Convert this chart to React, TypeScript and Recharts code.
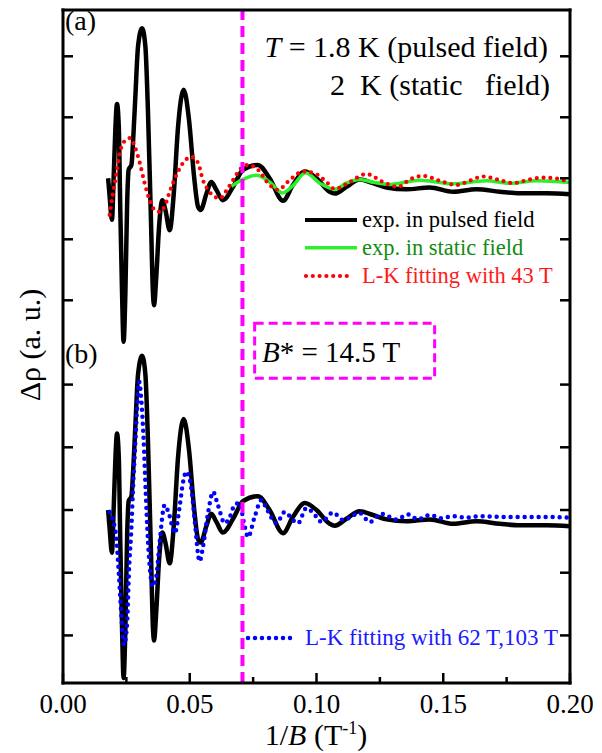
import React from 'react';
import { ComposedChart, Line, XAxis, YAxis, ReferenceLine, ReferenceArea } from 'recharts';

// x = 1/B (T^-1); y in arbitrary units (one left-axis division = 10)
const pulsedX = [
  0.0178, 0.0184, 0.0193, 0.02, 0.0207, 0.0213, 0.022, 0.0226, 0.0233, 0.0239,
  0.0246, 0.0253, 0.0259, 0.027, 0.0276, 0.0286, 0.0296, 0.0312, 0.0325, 0.0335,
  0.0346, 0.0355, 0.0359, 0.0368, 0.0379, 0.0392, 0.0404, 0.0421, 0.0437, 0.0454,
  0.0476, 0.0497, 0.0517, 0.0533, 0.0543, 0.0566, 0.0585, 0.0605, 0.0631, 0.0671,
  0.071, 0.0769, 0.0815, 0.0868, 0.0907, 0.0954, 0.1, 0.1052, 0.1072, 0.1118,
  0.117, 0.1223, 0.1276, 0.1355, 0.1447, 0.1539, 0.1631, 0.1723, 0.1802, 0.1907, 0.2,
];
const pulsedY = [
  0, -3.0, -6.8, 0.3, 8.5, 12.2, 8.5, -5.2, -18.9, -26.8,
  -18.9, -4.1, 1.4, 2.2, 5.7, 13.9, 21.6, 24.6, 21.6, 11.2,
  -5.2, -18.9, -20.8, -16.1, -7.9, -3.6, -5.2, -8.5, -2.5, 8.5,
  14.5, 9.6, 0.3, -4.7, -5.2, -2.5, -0.6, -1.9, -3.6, -1.4,
  1.4, 2.2, 0, -3.7, -1.1, 1.1, 0, -2.2, -2.5, -1.4,
  -0.2, -0.8, -1.5, -1.8, -1.5, -2.2, -1.8, -2.2, -2.45, -2.45, -2.6,
];

const staticX = [
  0.0664, 0.0704, 0.0763, 0.0815, 0.0866, 0.0907, 0.0957, 0.1013, 0.1072, 0.1118,
  0.117, 0.123, 0.1289, 0.1407, 0.1539, 0.167, 0.1762, 0.1868, 0.2,
];
const staticY = [
  -1.3, -0.3, 0.5, -0.6, -2.4, -1.2, 0.9, -0.8, -1.8, -0.8,
  -0.2, -0.7, -1.0, -0.3, -0.9, -0.4, -0.8, -0.4, -0.7,
];

const fit43X = [
  0.0184, 0.0197, 0.0211, 0.0224, 0.0241, 0.0263, 0.0283, 0.0303, 0.0322, 0.0342,
  0.0362, 0.0382, 0.0401, 0.0421, 0.0447, 0.0473, 0.0507, 0.0533, 0.0552, 0.0572,
  0.0598, 0.0618, 0.0651, 0.0671, 0.0697, 0.073, 0.0769, 0.0815, 0.0848, 0.0894,
  0.0947, 0.0993, 0.1039, 0.1072, 0.1131, 0.1197, 0.1262, 0.1322, 0.1368, 0.142,
  0.1486, 0.1552, 0.1604, 0.1657, 0.1723, 0.1775, 0.1841, 0.1887, 0.194, 0.1986, 0.2,
];
const fit43Y = [
  -6.0, -2.5, 0.8, 4.1, 6.0, 6.6, 5.2, 2.5, -0.8, -3.6,
  -5.2, -5.5, -4.6, -2.2, 0.5, 2.5, 3.5, 2.5, -0.3, -1.9,
  -3.0, -3.3, -1.6, -0.3, 1.4, 2.2, 1.4, -1.1, -1.9, -0.3,
  1.1, 0.8, -0.6, -1.75, -0.6, 0.7, -0.6, -1.4, -0.2, 0.4,
  -0.4, -1.1, -0.4, 0.3, -0.3, -0.8, -0.2, 0.1, 0, -0.4, -0.5,
];

// panel (b) values, in panel (b) units
const fit62X = [
  0.0184, 0.0197, 0.0211, 0.022, 0.0228, 0.0241, 0.0253, 0.026, 0.027, 0.0276,
  0.0286, 0.0294, 0.03, 0.0309, 0.0318, 0.0326, 0.0335, 0.0355, 0.0368, 0.0382,
  0.0401, 0.0417, 0.0441, 0.046, 0.0473, 0.0487, 0.0507, 0.052, 0.0539, 0.0552,
  0.0572, 0.0592, 0.0611, 0.0638, 0.0658, 0.0677, 0.0697, 0.0713, 0.073, 0.0756,
  0.0783, 0.0802, 0.0842, 0.0875, 0.0907, 0.0927, 0.096, 0.1, 0.1019, 0.1065,
  0.1105, 0.117, 0.121, 0.1256, 0.1315, 0.1361, 0.14, 0.1447, 0.1493, 0.1539,
  0.1591, 0.1644, 0.1749, 0.1868, 0.2,
];
const fit62Y = [
  -0.3, -1.6, -4.8, -10.0, -15.4, -21.5, -18.0, -10.0, -2.7, 3.2,
  11.2, 17.5, 20.5, 17.5, 11.2, 3.2, -4.8, -12.2, -10.6, -4.8,
  0.8, -0.5, -3.7, 0.5, 4.3, 6.1, 3.2, -1.9, -8.2, -5.9,
  -0.5, 2.9, 0.8, -2.1, -1.1, 0.8, 1.1, -1.9, -4.3, -1.1,
  1.6, 0.3, -2.1, -0.3, -1.6, -2.1, 0.3, -1.1, -1.9, -0.4,
  -1.6, -0.5, -1.9, -0.6, -1.5, -0.7, -1.5, -0.8, -1.3, -1.0,
  -1.2, -1.0, -1.1, -1.1, -1.2,
];

const xMajor = [0, 0.05, 0.1, 0.15, 0.2];
const xMinor = [0.025, 0.075, 0.125, 0.175];
const yTicksLocal = [20, 10, 0, -10, -20];

// panel (b) sits lower on the shared axis, with a slightly larger scale
const PANEL_B_OFFSET = -54.38;
const PANEL_B_SCALE = 1.028;
const toB = (v: number) => PANEL_B_OFFSET + v * PANEL_B_SCALE;

const B_STAR = 0.0708; // 1/B* marker
const boxX = [0.0756, 0.1466];
const boxYLocal = [21.0, 29.8];

const Y_DOMAIN: [number, number] = [-82.74, 27.59];
const SERIF = "'Liberation Serif', 'Times New Roman', serif";

const zip = (xs: number[], ys: number[], f = (v: number) => v) => xs.map((x, i) => ({ x, y: f(ys[i]) }));

const pulsedA = zip(pulsedX, pulsedY);
const pulsedB = zip(pulsedX, pulsedY, toB);
const staticA = zip(staticX, staticY);
const fit43A = zip(fit43X, fit43Y);
const fit62B = zip(fit62X, fit62Y, toB);
const yTicks = [...yTicksLocal, ...yTicksLocal.map(toB)];
const xTicks = [...xMajor, ...xMinor].sort((a, b) => a - b);

const isMajor = (v: number) => xMajor.some((m) => Math.abs(m - v) < 1e-9);

function BottomTick(props: any) {
  const { x, y, payload } = props;
  const major = isMajor(payload.value);
  return (
    <g>
      <line x1={x} y1={y} x2={x} y2={y - (major ? 10 : 6)} stroke="#000" strokeWidth={2.5} />
      {major && (
        <text x={x} y={y + 30} textAnchor="middle" fontSize={27} fontFamily={SERIF} fill="#000">
          {payload.value.toFixed(2)}
        </text>
      )}
    </g>
  );
}

function TopTick(props: any) {
  const { x, y, payload } = props;
  const major = isMajor(payload.value);
  return <line x1={x} y1={y} x2={x} y2={y + (major ? 10 : 6)} stroke="#000" strokeWidth={2.5} />;
}

function LeftTick(props: any) {
  const { x, y } = props;
  return <line x1={x} y1={y} x2={x + 10} y2={y} stroke="#000" strokeWidth={2.5} />;
}

function RightTick(props: any) {
  const { x, y } = props;
  return <line x1={x} y1={y} x2={x - 10} y2={y} stroke="#000" strokeWidth={2.5} />;
}

const frame = { stroke: '#000', strokeWidth: 3, strokeLinecap: 'square' as const };

export default function App() {
  return (
    <div style={{ position: 'absolute', left: 0, top: 0, width: 602, height: 753, background: '#fff' }}>
      <ComposedChart width={602} height={753} margin={{ top: 0, right: 0, bottom: 0, left: 0 }}>
        <XAxis
          xAxisId={0}
          dataKey="x"
          type="number"
          domain={[0, 0.2]}
          ticks={xTicks}
          interval={0}
          height={70}
          tickSize={0}
          tickMargin={0}
          tickLine={false}
          axisLine={frame}
          tick={<BottomTick />}
          allowDataOverflow
        />
        <XAxis
          xAxisId="top"
          orientation="top"
          type="number"
          domain={[0, 0.2]}
          ticks={xTicks}
          interval={0}
          height={10}
          tickSize={0}
          tickMargin={0}
          tickLine={false}
          axisLine={frame}
          tick={<TopTick />}
          allowDataOverflow
        />
        <YAxis
          yAxisId={0}
          type="number"
          domain={Y_DOMAIN}
          ticks={yTicks}
          interval={0}
          width={63}
          tickSize={0}
          tickMargin={0}
          tickLine={false}
          axisLine={frame}
          tick={<LeftTick />}
          allowDataOverflow
        />
        <YAxis
          yAxisId="right"
          orientation="right"
          type="number"
          domain={Y_DOMAIN}
          ticks={yTicks}
          interval={0}
          width={32}
          tickSize={0}
          tickMargin={0}
          tickLine={false}
          axisLine={frame}
          tick={<RightTick />}
          allowDataOverflow
        />
        <Line data={pulsedA} dataKey="y" type="monotone" stroke="#000" strokeWidth={4.5} dot={false} activeDot={false} isAnimationActive={false} />
        <Line data={staticA} dataKey="y" type="monotone" stroke="#2bf02b" strokeWidth={3.5} dot={false} activeDot={false} isAnimationActive={false} />
        <Line data={fit43A} dataKey="y" type="monotone" stroke="#ff0000" strokeWidth={4.2} strokeDasharray="0 6.8" strokeLinecap="round" dot={false} activeDot={false} isAnimationActive={false} />
        <Line data={pulsedB} dataKey="y" type="monotone" stroke="#000" strokeWidth={4.5} dot={false} activeDot={false} isAnimationActive={false} />
        <Line data={fit62B} dataKey="y" type="monotone" stroke="#0000ff" strokeWidth={4.5} strokeDasharray="0 7" strokeLinecap="round" dot={false} activeDot={false} isAnimationActive={false} />
        <ReferenceLine x={B_STAR} stroke="#ff00ff" strokeWidth={4} strokeDasharray="11 6" />
        <ReferenceArea
          x1={boxX[0]}
          x2={boxX[1]}
          y1={toB(boxYLocal[0])}
          y2={toB(boxYLocal[1])}
          fill="none"
          fillOpacity={0}
          stroke="#ff00ff"
          strokeWidth={3}
          strokeDasharray="9 5"
        />
      </ComposedChart>
      <svg width={602} height={753} style={{ position: 'absolute', left: 0, top: 0, pointerEvents: 'none' }} fontFamily={SERIF}>
        <text x={65} y={30} fontSize={28}>(a)</text>
        <text x={65} y={363} fontSize={28}>(b)</text>
        <text x={548} y={57} fontSize={30} textAnchor="end">
          <tspan fontStyle="italic">T</tspan> = 1.8 K (pulsed field)
        </text>
        <text x={550} y={95} fontSize={30} textAnchor="end" style={{ whiteSpace: 'pre' }}>2  K (static   field)</text>

        <line x1={305} y1={220} x2={357} y2={220} stroke="#000" strokeWidth={4} />
        <text x={362} y={227} fontSize={22.5}>exp. in pulsed field</text>
        <line x1={305} y1={247.7} x2={357} y2={247.7} stroke="#2bf02b" strokeWidth={3.5} />
        <text x={362} y={255} fontSize={22.5} fill="#128c12">exp. in static field</text>
        <line x1={306} y1={276} x2={352} y2={276} stroke="#ff0000" strokeWidth={4.2} strokeDasharray="0 6.8" strokeLinecap="round" />
        <text x={362} y={283} fontSize={22.5} fill="#ff1a1a">L-K fitting with 43 T</text>

        <text x={262} y={362} fontSize={29}>
          <tspan fontStyle="italic">B</tspan>* = 14.5 T
        </text>

        <line x1={248} y1={638} x2={294} y2={638} stroke="#0000ff" strokeWidth={4.5} strokeDasharray="0 7" strokeLinecap="round" />
        <text x={305} y={645} fontSize={23} fill="#1a1aff">L-K fitting with 62 T,103 T</text>

        <text x={316} y={745} textAnchor="middle" fontSize={30}>
          1/<tspan fontStyle="italic">B</tspan> (T<tspan dy={-11} fontSize={18}>-1</tspan><tspan dy={11}>)</tspan>
        </text>
        <text transform="translate(40,345) rotate(-90)" textAnchor="middle" fontSize={30}>Δρ (a. u.)</text>
      </svg>
    </div>
  );
}
